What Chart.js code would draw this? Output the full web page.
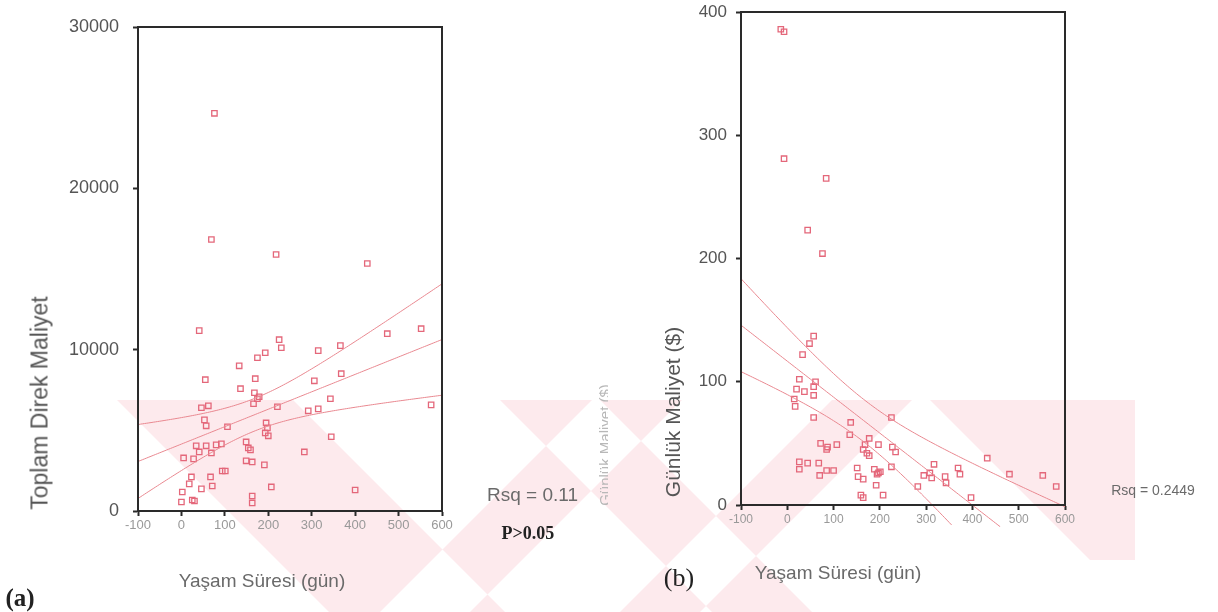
<!DOCTYPE html>
<html><head><meta charset="utf-8">
<script src="https://cdn.jsdelivr.net/npm/chart.js@4.4.1/dist/chart.umd.min.js"></script>
<style>
html,body{margin:0;padding:0;background:#fff;}
#wrap{position:relative;width:1218px;height:612px;overflow:hidden;background:#fff;font-family:Arial,"Liberation Sans",sans-serif;}
.abs{position:absolute;white-space:nowrap;}
.t{position:absolute;white-space:nowrap;transform:translate(-50%,-50%);line-height:1;}
.r{transform:translate(-50%,-50%) rotate(-90deg);}
</style></head><body>
<div id="wrap">
<svg class="abs" style="left:0;top:0" width="1218" height="612">
  <path fill="#fdeaed" d="M117,400 L293,400 L505,612 L329,612 Z M380,612 L470,612 L682,400 L592,400 Z M500,400 L600,400 L812,612 L712,612 Z M620,612 L700,612 L912,400 L832,400 Z M930,400 L1135,400 L1135,560 L1090,560 Z"/>
</svg>
<div class="abs" style="left:0;top:0;width:600px;height:612px"><canvas id="ca" width="600" height="612"></canvas></div>
<div class="abs" style="left:582px;top:0;width:636px;height:612px"><canvas id="cb" width="636" height="612"></canvas></div>
<div class="abs" style="left:487px;top:484px;width:93px;overflow:hidden;font-size:19px;color:#6a6a6a;">Rsq = 0.11</div>
<div class="abs" style="left:584px;top:380px;width:24px;height:130px;overflow:hidden;">
  <div class="t r" style="left:20px;top:65px;font-size:15px;color:#b8b8b8;">Günlük Maliyet ($)</div>
</div>
<div class="t r" style="left:40px;top:403px;font-size:23px;color:#555;">Toplam Direk Maliyet</div>
<div class="t" style="left:262px;top:580px;font-size:19px;color:#6a6a6a;">Yaşam Süresi (gün)</div>
<div class="t" style="left:20px;top:597px;font-size:25px;color:#222;font-family:'Liberation Serif','DejaVu Serif',serif;font-weight:bold;">(a)</div>
<div class="t" style="left:528px;top:533px;font-size:18px;color:#222;font-family:'Liberation Serif','DejaVu Serif',serif;font-weight:bold;">P&gt;0.05</div>
<div class="t r" style="left:672px;top:412px;font-size:21px;color:#555;">Günlük Maliyet ($)</div>
<div class="t" style="left:679px;top:578px;font-size:26px;color:#222;font-family:'Liberation Serif','DejaVu Serif',serif;">(b)</div>
<div class="t" style="left:838px;top:572px;font-size:19px;color:#6a6a6a;">Yaşam Süresi (gün)</div>
<div class="t" style="left:1153px;top:490px;font-size:14px;color:#6a6a6a;">Rsq = 0.2449</div>
</div>
<script>
// ---- data (a): survival days vs total direct cost ----
const aDays = [76,69,218,428,41,474,552,225,230,193,175,315,366,133,55,170,306,368,136,168,179,175,166,343,221,575,292,315,46,62,53,57,106,195,198,193,200,345,34,57,80,92,41,69,149,154,159,5,28,149,163,191,283,94,101,23,67,18,71,46,207,400,2,0,25,30,163,163];
const aCost = [24650,16830,15900,15340,11180,10990,11300,10620,10120,9810,9500,9940,10250,9000,8140,8200,8070,8510,7580,7330,7080,6960,6650,6960,6460,6580,6210,6330,6400,6520,5650,5280,5220,5460,5150,4840,4660,4600,4040,4040,4100,4160,3660,3600,4280,3910,3790,3290,3230,3110,3040,2860,3660,2480,2480,2110,2110,1680,1550,1370,1490,1300,1180,560,680,620,930,500];
// ---- data (b): survival days vs daily cost ----
const bDays = [-14,-7,-7,84,44,76,57,48,33,26,61,20,37,57,57,15,17,57,137,135,72,87,107,85,177,197,168,164,172,177,227,234,225,26,26,44,68,70,85,100,151,153,164,188,201,194,197,225,192,207,159,164,282,295,308,317,312,341,343,369,373,397,432,480,552,581];
const bCost = [386,384,281,265,223,204,137,131,122,102,100,94,92,96,89,86,80,71,67,57,50,47,49,45,54,49,49,45,42,40,47,43,71,35,29,34,34,24,28,28,30,23,21,29,27,25,26,31,16,8,8,6,15,24,26,33,22,23,18,30,25,6,38,25,24,15];
const xTicks = [-100,0,100,200,300,400,500,600];

const RED = '#e4677a';
const LINE = '#e98890';

function fit(xs, ys, floorY){
  const n = xs.length;
  const mx = xs.reduce((a,b)=>a+b,0)/n, my = ys.reduce((a,b)=>a+b,0)/n;
  let sxx=0,sxy=0; for(let i=0;i<n;i++){sxx+=(xs[i]-mx)**2; sxy+=(xs[i]-mx)*(ys[i]-my);}
  const b = sxy/sxx, a = my-b*mx;
  let sse=0; for(let i=0;i<n;i++){sse+=(ys[i]-a-b*xs[i])**2;}
  const s = Math.sqrt(sse/(n-2)), t = 2.0;
  const mid=[],up=[],low=[];
  for(let x=-100;x<=600;x+=5){
    const y=a+b*x, w=t*s*Math.sqrt(1/n+(x-mx)**2/sxx);
    if(y>=floorY) mid.push({x,y});
    if(y+w>=floorY) up.push({x,y:y+w});
    if(y-w>=floorY) low.push({x,y:y-w});
  }
  return {mid,up,low};
}

const borderPlugin = {
  id:'box',
  afterDraw(c){
    const {ctx, chartArea:ca} = c;
    ctx.save(); ctx.strokeStyle='#2a2a2a'; ctx.lineWidth=2;
    ctx.strokeRect(ca.left, ca.top, ca.right-ca.left, ca.bottom-ca.top);
    ctx.restore();
  }
};

function makeChart(id, xs, ys, yMax, yStep, pad, yW, yFont, yPad, xFont, floorY){
  const f = fit(xs, ys, floorY);
  const pts = xs.map((x,i)=>({x, y:ys[i]}));
  const lineDs = (d)=>({type:'line', data:d, borderColor:LINE, borderWidth:1, pointRadius:0, fill:false, tension:0, clip:{left:0,top:0,right:0,bottom:22}});
  return new Chart(document.getElementById(id), {
    type:'scatter',
    data:{datasets:[
      lineDs(f.up), lineDs(f.mid), lineDs(f.low),
      {data:pts, pointStyle:'rect', pointRadius:3.8, borderColor:RED, borderWidth:1.3, backgroundColor:'rgba(255,255,255,0)'}
    ]},
    options:{
      responsive:false, animation:false, devicePixelRatio:1,
      layout:{padding:pad},
      plugins:{legend:{display:false}, tooltip:{enabled:false}},
      scales:{
        x:{type:'linear', min:-100, max:600,
           afterBuildTicks(s){ s.ticks = xTicks.map(v=>({value:v})); },
           afterFit(s){ s.height = 30; s.paddingLeft = 0; s.paddingRight = 0; },
           grid:{drawOnChartArea:false, drawTicks:true, tickLength:5, tickColor:'#2a2a2a', tickWidth:2},
           border:{display:true, color:'#2a2a2a', width:2},
           ticks:{color:'#999', font:{size:xFont, family:'Arial'}, padding:2, maxRotation:0, autoSkip:false, callback:(v)=>String(v)}},
        y:{type:'linear', min:0, max:yMax,
           ticks:{stepSize:yStep, color:'#555', font:{size:yFont, family:'Arial'}, padding:yPad, callback:(v)=>String(v)},
           afterFit(s){ s.width = yW; s.paddingTop = 0; s.paddingBottom = 0; },
           grid:{drawOnChartArea:false, drawTicks:true, tickLength:5, tickColor:'#2a2a2a', tickWidth:2},
           border:{display:true, color:'#2a2a2a', width:2}}
      }
    },
    plugins:[borderPlugin]
  });
}

makeChart('ca', aDays, aCost, 30000, 10000, {left:58, top:27, right:158, bottom:71}, 80, 18, 14, 13, -1e9);
makeChart('cb', bDays, bCost, 400, 100, {left:99, top:12, right:153, bottom:77}, 60, 17, 9, 12, -18);
</script>
</body></html>
